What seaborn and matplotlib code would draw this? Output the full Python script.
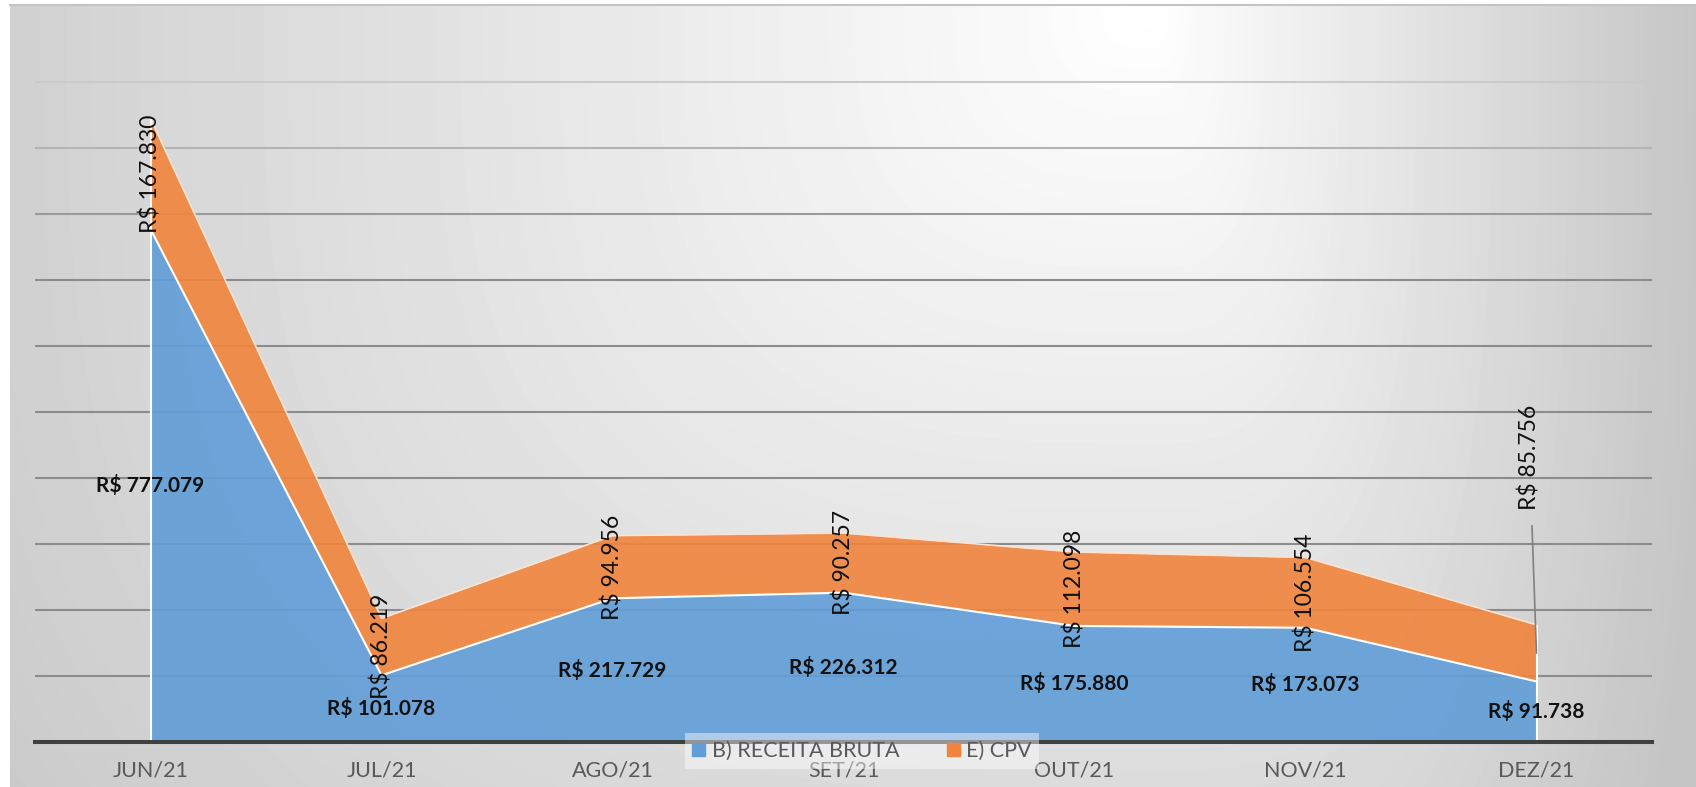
import numpy as np
import pandas as pd
import matplotlib.pyplot as plt
import seaborn as sns
from matplotlib.patches import Patch

# data
months = ["JUN/21", "JUL/21", "AGO/21", "SET/21", "OUT/21", "NOV/21", "DEZ/21"]
receita_bruta = [777079, 101078, 217729, 226312, 175880, 173073, 91738]
cpv = [167830, 86219, 94956, 90257, 112098, 106554, 85756]

BLUE = "#619ED8"
ORANGE = "#F0843C"
W, H = 1696, 787


def brl(v):
    return "R$ " + f"{v:,}".replace(",", ".")


sns.set_theme(style="white")
plt.rcParams["font.family"] = ["Lato", "DejaVu Sans"]

fig = plt.figure(figsize=(W / 100, H / 100), dpi=100)

# excel-like gray gradient behind the chart
bg = fig.add_axes([0, 0, 1, 1], zorder=0)
yy, xx = np.mgrid[0:H, 0:W]
cx, cy = 1150, 5
sx = np.where(xx < cx, 1450.0, 560.0)
d = ((np.abs(xx - cx) / sx) ** 3 + (np.abs(yy - cy) / 1290.0) ** 3) ** (1 / 3)
shade = 1 - 0.23 * np.clip(d, 0, 1)
shade[:, :10] = 1
shade[:5, :] = 1
bg.imshow(shade, cmap="gray", vmin=0, vmax=1, aspect="auto", interpolation="bilinear")
bg.axhline(5, xmin=10 / W, color="#c4c4c4", lw=1.5)
bg.axis("off")

# plot area
ymax = 1.01e6
ax = fig.add_axes([35 / W, 1 - 742 / H, (1652 - 35) / W, 66 * 10.1 / H], zorder=1)
ax.patch.set_alpha(0)

df = pd.DataFrame({"mes": np.arange(len(months)), "receita": receita_bruta, "cpv": cpv})
df["total"] = df["receita"] + df["cpv"]

ax.fill_between(df["mes"], 0, df["receita"], color=BLUE, alpha=0.9, lw=0, zorder=2)
ax.fill_between(df["mes"], df["receita"], df["total"], color=ORANGE, alpha=0.9, lw=0, zorder=2)
sns.lineplot(data=df, x="mes", y="receita", color="white", lw=1.5, ax=ax, zorder=3)
sns.lineplot(data=df, x="mes", y="total", color="#fbe3d2", lw=1.2, ax=ax, zorder=3)
ax.vlines([df["mes"].iloc[0], df["mes"].iloc[-1]], 0,
          [df["total"].iloc[0], df["total"].iloc[-1]], color="white", lw=1.5, zorder=3)

ax.set_xlim(-0.5, len(months) - 0.5)
ax.set_ylim(0, ymax)

# horizontal gridlines, fading toward the top like the original
grid_vals = np.arange(100000, 1000001, 100000)
grid_cols = ["#8c8c8c"] * 7 + ["#9a9a9a", "#b4b4b4", "#cacaca"]
for gv, gc in zip(grid_vals, grid_cols):
    ax.axhline(gv, color=gc, lw=1.5, zorder=1)
ax.set_yticks([])
ax.set_xticks(df["mes"], months)
ax.tick_params(axis="x", length=0, pad=13, labelsize=15.5, labelcolor="#595959")
ax.set_xlabel("")
ax.set_ylabel("")
for s in ["top", "left", "right"]:
    ax.spines[s].set_visible(False)
ax.spines["bottom"].set_color("#404040")
ax.spines["bottom"].set_linewidth(2.9)
ax.spines["bottom"].set_zorder(4)

# data labels
for i, row in df.iterrows():
    ax.text(row["mes"], row["receita"] / 2, brl(row["receita"]), ha="center", va="center",
            fontsize=15, fontweight="bold", color="#111111", zorder=5)
    if i < len(df) - 1:
        ax.text(row["mes"], row["receita"] + row["cpv"] / 2, brl(row["cpv"]), rotation=90,
                ha="center", va="center", fontsize=16.5, color="#111111", zorder=5)
    else:
        ax.annotate(brl(row["cpv"]), xy=(row["mes"], row["receita"] + row["cpv"] / 2),
                    xytext=(-5, 141), textcoords="offset points", rotation=90,
                    ha="center", va="center", fontsize=16.5, color="#111111", zorder=5,
                    arrowprops=dict(arrowstyle="-", color="#808080", lw=1.2,
                                    shrinkA=9, shrinkB=0))

handles = [Patch(color=BLUE, label="B) RECEITA BRUTA"), Patch(color=ORANGE, label="E) CPV")]
leg = ax.legend(handles=handles, loc="center", bbox_to_anchor=(862 / W, 1 - 751 / H),
                bbox_transform=fig.transFigure, ncol=2, frameon=True, fontsize=15.5,
                handlelength=0.6, handleheight=0.6, handletextpad=0.3, columnspacing=2.2,
                borderpad=0.35, fancybox=False, labelcolor="#595959")
leg.get_frame().set_facecolor("white")
leg.get_frame().set_alpha(0.45)
leg.get_frame().set_edgecolor("none")
leg.set_zorder(6)

fig.savefig("out.png", dpi=100)
